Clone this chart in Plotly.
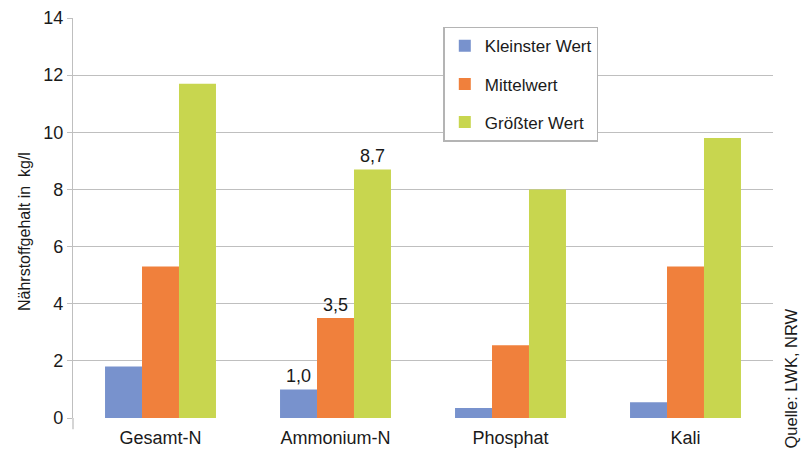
import plotly.graph_objects as go

# Nutrient content of liquid manure (kg per litre)
categories = ["Gesamt-N", "Ammonium-N", "Phosphat", "Kali"]
kleinster_wert = [1.8, 1.0, 0.35, 0.55]
mittelwert = [5.3, 3.5, 2.55, 5.3]
groesster_wert = [11.7, 8.7, 8.0, 9.8]
y_ticks = [0, 2, 4, 6, 8, 10, 12, 14]

# Only the Ammonium-N group carries value labels
labelled = {"Ammonium-N"}

FONT = "Liberation Sans Narrow, Liberation Sans, Arial, sans-serif"
TEXT = "#1a1a1a"


def labels(values):
    return [f"{v:.1f}".replace(".", ",") if c in labelled else ""
            for c, v in zip(categories, values)]


series = [
    ("Kleinster Wert", kleinster_wert, "#7892cd"),
    ("Mittelwert", mittelwert, "#f0803c"),
    ("Größter Wert", groesster_wert, "#c8d64f"),
]

fig = go.Figure()
for i, (name, vals, color) in enumerate(series):
    fig.add_trace(go.Bar(
        x=categories, y=vals, name=name,
        marker=dict(color=color, line=dict(width=0)),
        text=labels(vals), textposition="outside",
        textfont=dict(family=FONT, size=18, color=TEXT),
        cliponaxis=False, legendgroup=f"g{i}",
    ))

fig.update_layout(
    width=810, height=453,
    margin=dict(l=73, r=37, t=18, b=35),
    paper_bgcolor="white", plot_bgcolor="white",
    barmode="group", bargap=0.366, bargroupgap=0,
    font=dict(family=FONT, size=17, color=TEXT),
    showlegend=True,
    legend=dict(
        x=0.529, y=0.978, xanchor="left", yanchor="top",
        bgcolor="white", bordercolor="#b4b4b4", borderwidth=1.5,
        font=dict(family=FONT, size=17, color=TEXT),
        tracegroupgap=13, traceorder="grouped",
        itemsizing="constant",
    ),
    xaxis=dict(
        showgrid=False, showline=False, ticks="",
        ticklabelstandoff=7, automargin=False,
        tickfont=dict(family=FONT, size=18, color=TEXT),
    ),
    yaxis=dict(
        range=[0, 14], tickvals=y_ticks,
        showgrid=True, gridcolor="#bfbfbf", gridwidth=1.3,
        showline=True, linecolor="#bfbfbf", linewidth=1.3,
        ticks="outside", ticklen=5, tickcolor="#bfbfbf", tickwidth=1.3,
        tickfont=dict(family=FONT, size=18, color=TEXT),
        zeroline=False, automargin=False,
    ),
    annotations=[
        dict(text="Nährstoffgehalt in  kg/l", xref="paper", yref="paper",
             x=-0.07, y=0.4675, textangle=-90, showarrow=False,
             font=dict(family=FONT, size=16, color=TEXT),
             xanchor="center", yanchor="middle"),
        dict(text="Quelle: LWK, NRW", xref="paper", yref="paper",
             x=1.025, y=0.1, textangle=-90, showarrow=False,
             font=dict(family=FONT, size=16.5, color=TEXT),
             xanchor="center", yanchor="middle"),
    ],
    shapes=[
        # y-axis line continues a little below the baseline
        dict(type="line", xref="paper", yref="paper", x0=0, x1=0,
             y0=0, y1=-0.028, line=dict(color="#bfbfbf", width=1.3)),
    ],
)

fig.write_html("out.html")
